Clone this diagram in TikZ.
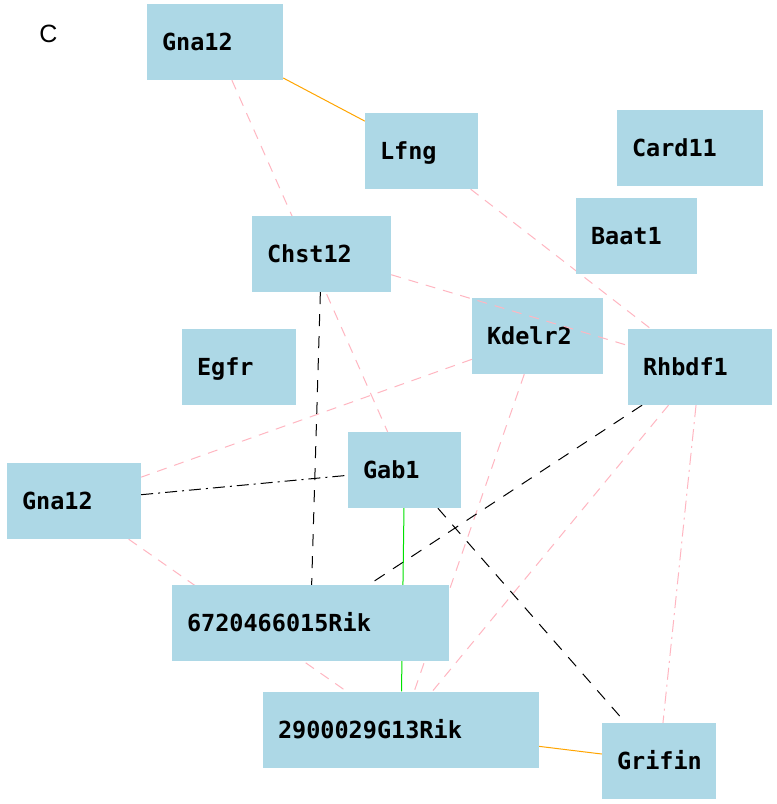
\documentclass[tikz,border=0pt]{standalone}
\usepackage{fontspec}
\newfontfamily\nodemono{DejaVu Sans Mono}
\newfontfamily\labelsans{Liberation Sans}
\definecolor{boxblue}{RGB}{173,216,230}
\definecolor{edgepink}{RGB}{255,182,193}
\definecolor{edgeorange}{RGB}{255,165,0}
\definecolor{edgegreen}{RGB}{0,225,0}
\pgfdeclarelayer{bg}
\pgfsetlayers{bg,main}
\tikzset{
  box/.style={fill=boxblue, draw=none, minimum height=76pt, inner xsep=15pt, inner ysep=0pt,
    align=left, text height=17pt, text depth=0pt, font=\nodemono\bfseries\fontsize{23.5}{28}\selectfont},
  pinkline/.style={draw=edgepink, line width=1pt, dash pattern=on 10pt off 8pt},
  pinkdashdot/.style={draw=edgepink, line width=1pt, dash pattern=on 12pt off 5pt on 2pt off 5pt},
  blackdash/.style={draw=black, line width=1pt, dash pattern=on 12pt off 10pt},
  blackdashdot/.style={draw=black, line width=1pt, dash pattern=on 12pt off 5pt on 2pt off 5pt},
  orangeline/.style={draw=edgeorange, line width=1pt},
  greenline/.style={draw=edgegreen, line width=1pt},
}
\begin{document}
\begin{tikzpicture}[x=1pt,y=-1pt]
\useasboundingbox (0,0) rectangle (777,804);
\node[font=\labelsans\fontsize{25}{30}\selectfont, inner sep=0pt] (lblC) at (48.5,34) {C};
\node[box, text width=106pt] (gnaT) at (215,42) {Gna12};
\node[box, text width=83pt] (lfng) at (421.5,151) {Lfng};
\node[box, text width=116pt] (card) at (690,148) {Card11};
\node[box, text width=91pt] (baat) at (636.5,236) {Baat1};
\node[box, text width=109pt] (chst) at (321.5,254) {Chst12};
\node[box, text width=101pt] (kdel) at (537.5,336) {Kdelr2};
\node[box, text width=84pt] (egfr) at (239,367) {Egfr};
\node[box, text width=114pt] (rhb) at (700,367) {Rhbdf1};
\node[box, text width=83pt] (gab) at (404.5,470) {Gab1};
\node[box, text width=104pt] (gnaL) at (74,501) {Gna12};
\node[box, text width=247pt] (rikA) at (310.5,623) {6720466015Rik};
\node[box, text width=246pt] (rikB) at (401,729.5) {2900029G13Rik};
\node[box, text width=84pt] (grif) at (659,761) {Grifin};
\begin{pgfonlayer}{bg}
\fill[white] (0,0) rectangle (777,804);
\draw[orangeline] (gnaT) -- (lfng);
\draw[pinkline] (gnaT) -- (gab);
\draw[pinkline] (lfng) -- (rhb);
\draw[blackdash] (chst) -- (rikA);
\draw[pinkline] (kdel) -- (gnaL);
\draw[pinkline] (kdel) -- (rikB);
\draw[blackdashdot] (gnaL) -- (gab);
\draw[pinkline] (gnaL) -- (rikB);
\draw[blackdash] (rhb) -- (rikA);
\draw[pinkline] (rhb) -- (rikB);
\draw[pinkdashdot] (rhb) -- (grif);
\draw[greenline] (gab) -- (rikB);
\draw[blackdash] (gab) -- (grif);
\draw[orangeline] (rikB) -- (grif);
\end{pgfonlayer}
\draw[pinkline] (chst) -- (rhb);
\end{tikzpicture}
\end{document}
